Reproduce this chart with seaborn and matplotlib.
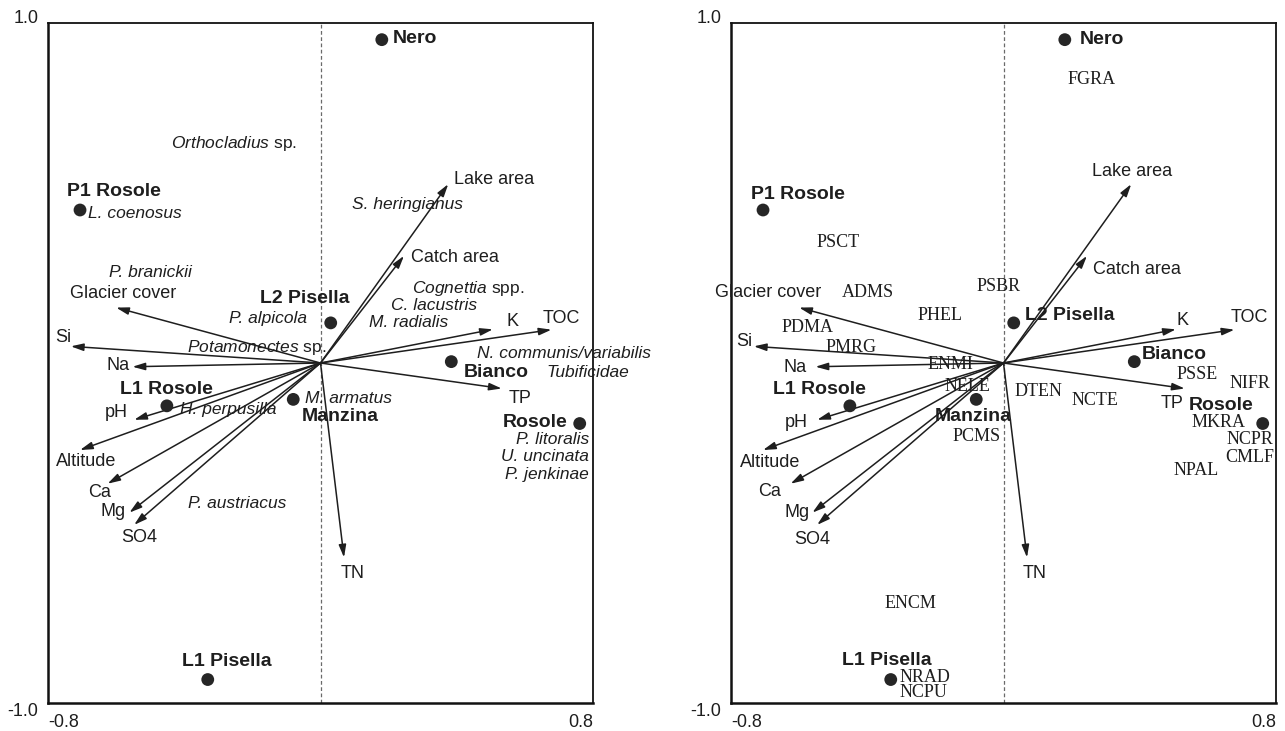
import matplotlib
matplotlib.use("Agg")
import matplotlib.pyplot as plt
import pandas as pd
import seaborn as sns

# ---- site scores (shared by both ordination panels) ----
sites = ["Nero", "P1 Rosole", "L2 Pisella", "Bianco", "L1 Rosole", "Manzina", "Rosole", "L1 Pisella"]
site_x = [0.180, -0.706, 0.030, 0.384, -0.451, -0.080, 0.761, -0.331]
site_y = [0.951, 0.450, 0.118, 0.004, -0.126, -0.107, -0.178, -0.931]

# ---- environmental variable biplot scores ----
env_vars = ["Lake area", "Catch area", "K", "TOC", "TP", "TN", "Glacier cover",
            "Si", "Na", "pH", "Altitude", "Ca", "Mg", "SO4"]
env_x = [0.375, 0.245, 0.506, 0.678, 0.532, 0.069, -0.600,
         -0.733, -0.552, -0.547, -0.706, -0.625, -0.561, -0.547]
env_y = [0.526, 0.315, 0.099, 0.098, -0.075, -0.572, 0.163,
         0.049, -0.011, -0.167, -0.256, -0.355, -0.440, -0.476]

# ---- taxa scores, left panel (taxon names) ----
taxa = [r"$\mathit{Orthocladius}$ sp.", "L. coenosus", "P. branickii", "P. alpicola",
        r"$\mathit{Potamonectes}$ sp.", "S. heringianus", r"$\mathit{Cognettia}$ spp.",
        "C. lacustris", "M. radialis", "N. communis/variabilis", "Tubificidae",
        "M. armatus", "H. perpusilla", "P. austriacus", "P. litoralis",
        "U. uncinata", "P. jenkinae"]
taxa_x = [-0.254, -0.683, -0.500, -0.040, -0.186, 0.254, 0.433, 0.333, 0.260,
          0.459, 0.662, -0.046, -0.413, -0.245, 0.788, 0.788, 0.788]
taxa_y = [0.647, 0.441, 0.265, 0.132, 0.047, 0.465, 0.220, 0.170, 0.118,
          0.029, -0.029, -0.103, -0.138, -0.412, -0.226, -0.276, -0.329]

# ---- taxa scores, right panel (taxon codes) ----
codes = ["FGRA", "PSCT", "ADMS", "PHEL", "PDMA", "PMRG", "PSBR", "ENMI", "NELE",
         "PCMS", "DTEN", "NCTE", "PSSE", "NIFR", "MKRA", "NCPR", "CMLF", "NPAL",
         "ENCM", "NRAD", "NCPU"]
code_x = [0.260, -0.486, -0.398, -0.186, -0.574, -0.448, -0.013, -0.157, -0.107,
          -0.078, 0.104, 0.269, 0.568, 0.783, 0.710, 0.792, 0.795, 0.565,
          -0.272, -0.304, -0.304]
code_y = [0.835, 0.353, 0.206, 0.141, 0.103, 0.047, 0.224, -0.003, -0.068,
          -0.215, -0.085, -0.109, -0.035, -0.059, -0.176, -0.226, -0.279, -0.315,
          -0.706, -0.924, -0.968]

# ---- label placement (x, y, horizontal alignment) ----
env_label_left = {
    "Lake area": (0.392, 0.541, "left"), "Catch area": (0.266, 0.309, "left"),
    "K": (0.546, 0.121, "left"), "TOC": (0.653, 0.132, "left"),
    "TP": (0.553, -0.103, "left"), "TN": (0.095, -0.618, "center"),
    "Glacier cover": (-0.580, 0.203, "center"), "Si": (-0.756, 0.076, "center"),
    "Na": (-0.559, -0.006, "right"), "pH": (-0.565, -0.147, "right"),
    "Altitude": (-0.688, -0.291, "center"), "Ca": (-0.650, -0.382, "center"),
    "Mg": (-0.571, -0.438, "right"), "SO4": (-0.533, -0.512, "center"),
}
env_label_right = {
    "Lake area": (0.377, 0.562, "center"), "Catch area": (0.263, 0.276, "left"),
    "K": (0.509, 0.124, "left"), "TOC": (0.721, 0.135, "center"),
    "TP": (0.527, -0.118, "right"), "TN": (0.090, -0.618, "center"),
    "Glacier cover": (-0.847, 0.206, "left"), "Si": (-0.762, 0.062, "center"),
    "Na": (-0.577, -0.012, "right"), "pH": (-0.574, -0.174, "right"),
    "Altitude": (-0.686, -0.294, "center"), "Ca": (-0.686, -0.379, "center"),
    "Mg": (-0.568, -0.441, "right"), "SO4": (-0.562, -0.518, "center"),
}
site_label_left = {
    "Nero": (0.213, 0.953, "left"), "P1 Rosole": (-0.744, 0.503, "left"),
    "L2 Pisella": (-0.046, 0.191, "center"), "Bianco": (0.421, -0.029, "left"),
    "L1 Rosole": (-0.453, -0.079, "center"), "Manzina": (0.057, -0.156, "center"),
    "Rosole": (0.724, -0.174, "right"), "L1 Pisella": (-0.275, -0.879, "center"),
}
site_label_right = {
    "Nero": (0.225, 0.950, "left"), "P1 Rosole": (-0.603, 0.497, "center"),
    "L2 Pisella": (0.063, 0.141, "left"), "Bianco": (0.407, 0.024, "left"),
    "L1 Rosole": (-0.539, -0.079, "center"), "Manzina": (-0.090, -0.156, "center"),
    "Rosole": (0.545, -0.124, "left"), "L1 Pisella": (-0.342, -0.874, "center"),
}
taxa_align = ["center", "left", "center", "right", "center", "center", "center",
              "center", "center", "left", "left", "left", "left", "center",
              "right", "right", "right"]
code_align = ["center"] * 13 + ["right", "right", "right", "right", "center",
                                "center", "left", "left"]

sns.set_theme(style="white")
plt.rcParams["font.family"] = ["Liberation Sans", "DejaVu Sans"]
plt.rcParams["mathtext.fontset"] = "custom"
plt.rcParams["mathtext.rm"] = "Liberation Sans"
plt.rcParams["mathtext.it"] = "Liberation Sans:italic"

INK = "#1e1e1e"
site_df = pd.DataFrame({"site": sites, "x": site_x, "y": site_y})

fig = plt.figure(figsize=(12.85, 7.31), dpi=100)
ax_l = fig.add_axes([48 / 1285, 28 / 731, 545 / 1285, 680 / 731])
ax_r = fig.add_axes([731 / 1285, 28 / 731, 545 / 1285, 680 / 731])


def base_panel(ax, env_labels, site_labels):
    ax.set_xlim(-0.8, 0.8)
    ax.set_ylim(-1.0, 1.0)
    ax.axvline(0, color="#6a6a6a", lw=0.9, ls=(0, (3, 2)), zorder=1)
    for name, x, y in zip(env_vars, env_x, env_y):
        ax.annotate("", xy=(x, y), xytext=(0, 0),
                    arrowprops=dict(arrowstyle="-|>,head_length=0.75,head_width=0.22",
                                    lw=1.1, color=INK, shrinkA=0, shrinkB=0,
                                    mutation_scale=10), zorder=3)
        lx, ly, ha = env_labels[name]
        ax.text(lx, ly, name, ha=ha, va="center", fontsize=13, color=INK, zorder=4)
    sns.scatterplot(data=site_df, x="x", y="y", ax=ax, s=85, color="#262626",
                    edgecolor="none", legend=False, zorder=5)
    for name in sites:
        lx, ly, ha = site_labels[name]
        ax.text(lx, ly, name, ha=ha, va="center", fontsize=14, fontweight="bold",
                color=INK, zorder=6)

    ax.set_xlabel("")
    ax.set_ylabel("")
    ax.set_xticks([-0.8, 0.8])
    ax.set_xticklabels(["-0.8", "0.8"])
    ax.set_yticks([-1.0, 1.0])
    ax.set_yticklabels(["-1.0", "1.0"])
    ax.tick_params(axis="x", length=0, labelsize=13, labelcolor=INK, pad=8)
    ax.tick_params(axis="y", length=0, labelsize=13, labelcolor=INK, pad=7)
    xt = ax.get_xticklabels()
    xt[0].set_ha("left")
    xt[1].set_ha("right")
    yt = ax.get_yticklabels()
    yt[0].set_va("top")
    yt[1].set_va("baseline")
    for side, sp in ax.spines.items():
        sp.set_visible(True)
        sp.set_color("#111111")
        sp.set_linewidth(1.8 if side in ("left", "bottom") else 1.3)
    ax.set_facecolor("white")


base_panel(ax_l, env_label_left, site_label_left)
for t, x, y, ha in zip(taxa, taxa_x, taxa_y, taxa_align):
    style = "normal" if t.startswith("$") else "italic"
    ax_l.text(x, y, t, ha=ha, va="center", fontsize=12.5, fontstyle=style,
              color=INK, zorder=4)

base_panel(ax_r, env_label_right, site_label_right)
for c, x, y, ha in zip(codes, code_x, code_y, code_align):
    ax_r.text(x, y, c, ha=ha, va="center", fontsize=13, family="Liberation Serif",
              color=INK, zorder=4)

fig.savefig("out.png", dpi=100, facecolor="white")
